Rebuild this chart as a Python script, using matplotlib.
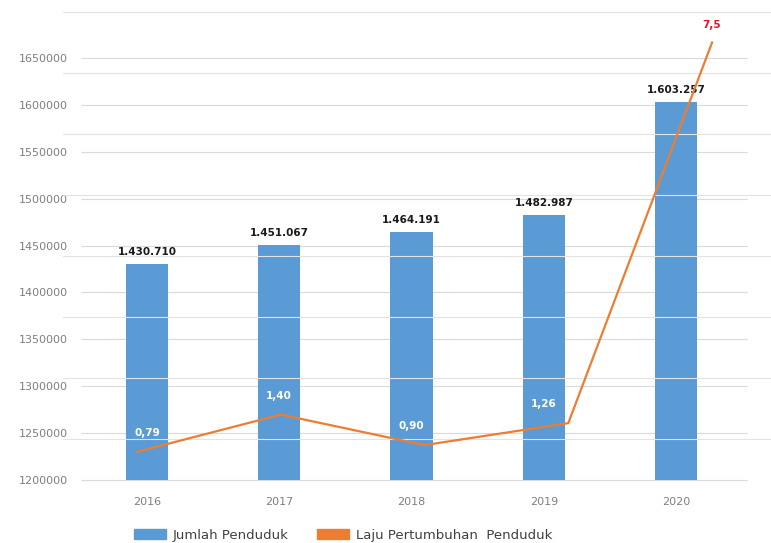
import numpy as np
import matplotlib.pyplot as plt
import matplotlib.transforms as mtransforms
from matplotlib.patches import Patch

years = ['2016', '2017', '2018', '2019', '2020']
jumlah = [1430710, 1451067, 1464191, 1482987, 1603257]
jumlah_label = ['1.430.710', '1.451.067', '1.464.191', '1.482.987', '1.603.257']
laju = [0.79, 1.40, 0.90, 1.26, 7.5]
laju_label = ['0,79', '1,40', '0,90', '1,26', '7,5']

c_bar = '#5B9BD5'
c_line = '#ED7D31'
W, H = 771, 543

fig = plt.figure(figsize=(W/100, H/100), dpi=100)
rect = [63/W, 1-500/H, (W-63)/W, (500-12)/H]

# primary axes: bars
ax = fig.add_axes(rect)
x = np.arange(len(years))
base = 1200000
ax.bar(x, np.array(jumlah)-base, bottom=base, width=0.32, color=c_bar, zorder=2)
ax.set_xlim(-0.635, 4.718)
ax.set_ylim(1178700, 1699000)
yt = np.arange(1200000, 1650001, 50000)
ax.set_yticks(yt)
ax.set_yticklabels([str(v) for v in yt])
ax.hlines(yt, -0.5, 4.54, color='#DADADA', lw=0.8, zorder=1)
ax.set_xticks(x)
ax.set_xticklabels(years)
ax.tick_params(axis='both', length=0, labelsize=8, colors='#7F7F7F')
ax.tick_params(axis='y', pad=-3.6)
ax.tick_params(axis='x', pad=-2)
for s in ax.spines.values():
	s.set_visible(False)
for xi, v, lbl in zip(x, jumlah, jumlah_label):
	ax.annotate(lbl, (xi, v), xytext=(0, 5), textcoords='offset points',
		ha='center', va='bottom', fontsize=7.5, fontweight='bold', color='#1A1A1A')

# secondary overlay: growth rate line
ax2 = fig.add_axes(rect, facecolor='none')
ax2.set_xlim(-0.515, 4.41)
ax2.set_ylim(0, 8)
ax2.set_yticks(range(9))
ax2.grid(axis='y', color='#E3E3E3', lw=0.8, zorder=0)
ax2.set_xticks([])
ax2.tick_params(axis='y', length=0, labelleft=False)
for s in ax2.spines.values():
	s.set_visible(False)
ax2.plot(x, laju, color=c_line, lw=1.6, zorder=3)

# rate labels sit inside the bars (x of bars, y of line); the peak one sits on the line end
bar_x_line_y = mtransforms.blended_transform_factory(ax.transData, ax2.transData)
for xi, v, lbl in zip(x, laju, laju_label):
	if v > 5:
		ax2.annotate(lbl, (xi, v), xytext=(0, 9), textcoords='offset points',
			ha='center', va='bottom', fontsize=7.5, fontweight='bold', color='#E8112D', zorder=4)
	else:
		ax2.annotate(lbl, (xi, v), xycoords=bar_x_line_y, xytext=(0, 10), textcoords='offset points',
			ha='center', va='bottom', fontsize=7.5, fontweight='bold', color='white', zorder=4)

handles = [Patch(color=c_bar, label='Jumlah Penduduk'),
	Patch(color=c_line, label='Laju Pertumbuhan  Penduduk')]
fig.legend(handles=handles, loc='center', bbox_to_anchor=(343/W, 1-535/H), ncol=2,
	frameon=False, handlelength=2.4, handleheight=0.7, columnspacing=2.2,
	handletextpad=0.5, fontsize=9.5, labelcolor='#404040')

fig.savefig('out.png', dpi=100)
plt.close(fig)
